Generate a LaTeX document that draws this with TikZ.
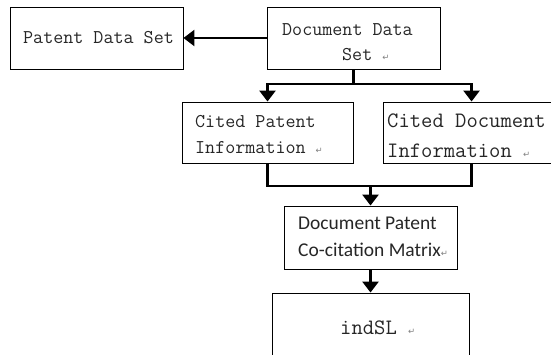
\documentclass[tikz,border=0pt]{standalone}
\usepackage{fontspec}
\usetikzlibrary{arrows.meta,calc}
\newfontfamily\carl{Carlito}
\newfontfamily\symf{DejaVu Sans}
\newcommand\retmark{{\symf\fontsize{8.5}{8.5}\selectfont\color{gray}↵}}
\tikzset{
  box/.style={draw, line width=0.9pt, rectangle, inner sep=0pt},
  txt/.style={anchor=base west, inner sep=0pt, text=black!85, font=\ttfamily\fontsize{19.5}{19.5}\selectfont},
  bigtxt/.style={anchor=base west, inner sep=0pt, text=black!85, font=\ttfamily\fontsize{22}{22}\selectfont},
  sanstxt/.style={anchor=base west, inner sep=0pt, text=black!85, font=\carl\fontsize{19.5}{19.5}\selectfont},
  conn/.style={line width=2.6pt, line join=miter},
  arr/.style={-{Triangle[width=16pt,length=11pt]}}
}
\begin{document}
\begin{tikzpicture}[x=1pt,y=-1pt]
\useasboundingbox (0,0) rectangle (551,355);
\clip (0,0) rectangle (551,355);
% boxes
\node[box, minimum width=173pt, minimum height=62pt] (pds) at (96.5,38) {};
\node[box, minimum width=173pt, minimum height=62pt] (dds) at (353.5,38) {};
\node[box, minimum width=171pt, minimum height=61pt] (cp) at (267.5,132.5) {};
\node[box, minimum width=190pt, minimum height=61pt] (cd) at (478,132.5) {};
\node[box, minimum width=173pt, minimum height=63pt] (dp) at (370.5,237.5) {};
\node[box, minimum width=197pt, minimum height=80pt] (ind) at (370.5,333) {};
% texts
\node[txt] (t1) at (23,44) {Patent Data Set};
\node[txt] (t2) at (282,36) {Document Data};
\node[txt] (t3) at (342,61) {Set \retmark};
\node[txt] (t4) at (195,128) {Cited Patent};
\node[txt] (t5) at (195,154) {Information \retmark};
\node[bigtxt] (t6) at (387,128) {Cited Document};
\node[bigtxt] (t7) at (387,158) {Information \retmark};
\node[sanstxt] (t8) at (298,230) {Document Patent};
\node[sanstxt] (t9) at (298,256) {Co-citation Matrix\retmark};
\node[bigtxt] (t10) at (340,334) {indSL \retmark};
% connectors
\coordinate (j1) at (353.5,84);
\coordinate (j2) at (370.5,186);
\coordinate (cdtop) at ($(cd.north west)+(89,0)$);
\coordinate (cdbot) at ($(cd.south west)+(89,0)$);
\draw[conn, arr] (dds.west) -- (pds.east);
\draw[conn] (dds.south) -- (j1);
\draw[conn, arr] (j1) -| (cp.north);
\draw[conn, arr] (j1) -| (cdtop);
\draw[conn] (cp.south) |- (j2) -| (cdbot);
\draw[conn, arr] (j2) -- (dp.north);
\draw[conn, arr] (dp.south) -- (ind.north);
\end{tikzpicture}
\end{document}
